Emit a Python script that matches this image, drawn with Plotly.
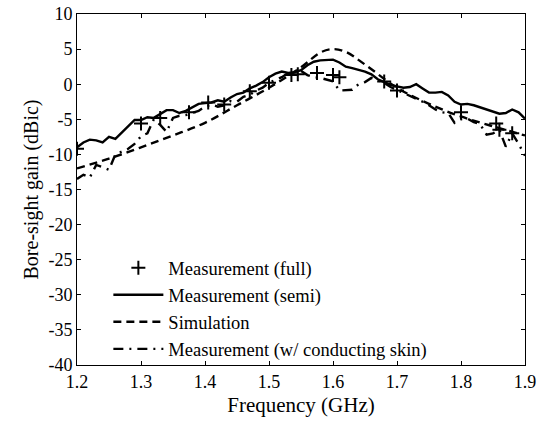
import plotly.graph_objects as go

# Frequency grid (GHz)
freq = [1.20, 1.21, 1.22, 1.23, 1.24, 1.25, 1.26, 1.27, 1.28, 1.29,
        1.30, 1.31, 1.32, 1.33, 1.34, 1.35, 1.36, 1.37, 1.38, 1.39,
        1.40, 1.41, 1.42, 1.43, 1.44, 1.45, 1.46, 1.47, 1.48, 1.49,
        1.50, 1.51, 1.52, 1.53, 1.54, 1.55, 1.56, 1.57, 1.58, 1.59,
        1.60, 1.61, 1.62, 1.63, 1.64, 1.65, 1.66, 1.67, 1.68, 1.69,
        1.70, 1.71, 1.72, 1.73, 1.74, 1.75, 1.76, 1.77, 1.78, 1.79,
        1.80, 1.81, 1.82, 1.83, 1.84, 1.85, 1.86, 1.87, 1.88, 1.89, 1.90]

# Measurement (semi)
semi = [-9.0, -8.3, -7.9, -8.0, -8.3, -7.5, -7.8, -6.9, -5.9, -5.1,
        -5.1, -4.7, -4.8, -4.2, -3.7, -3.7, -4.1, -3.8, -3.3, -2.8,
        -2.7, -2.6, -2.3, -2.5, -1.9, -1.4, -1.2, -0.6, -0.2, 0.3,
        1.0, 1.5, 1.8, 1.6, 1.7, 2.0, 2.7, 3.2, 3.4, 3.5,
        3.5, 3.1, 2.5, 2.3, 2.1, 1.8, 1.4, 0.7, 0.3, -0.1,
        -0.3, -0.5, -0.4, 0.0, -0.6, -1.2, -1.2, -1.1, -1.6, -2.5,
        -2.9, -2.8, -3.0, -3.3, -3.7, -4.0, -4.2, -4.1, -3.6, -4.0, -4.9]

# Measurement (w/ conducting skin)
skin = [-13.5, -12.9, -13.3, -11.5, -11.8, -12.2, -10.0, -9.6, -9.2, -8.5,
        -7.4, -7.0, -5.0, -5.8, -6.8, -4.8, -4.5, -4.4, -4.1, -3.8,
        -3.2, -2.9, -3.2, -3.0, -2.4, -2.5, -1.8, -1.5, -0.9, -0.5,
        0.2, 0.6, 1.0, 1.6, 1.8, 1.9, 1.3, 1.0, 0.9, 0.6,
        0.4, -0.9, -0.9, -0.8, 0.0, 0.3, 0.9, 0.6, 0.2, -0.4,
        -0.8, -1.3, -1.6, -2.0, -2.5, -3.0, -3.6, -4.0, -4.1, -5.5,
        -5.0, -4.9, -5.4, -5.7, -7.2, -7.0, -6.5, -8.9, -7.0, -8.5, -10.2]

# Simulation
sim_freq = [1.20, 1.25, 1.30, 1.35, 1.40, 1.45, 1.50, 1.55, 1.58, 1.60,
            1.62, 1.65, 1.70, 1.75, 1.80, 1.85, 1.90]
sim = [-12.0, -10.6, -9.0, -7.3, -5.5, -3.0, -0.5, 2.4, 4.5, 5.0,
       4.6, 2.8, -0.5, -2.8, -4.6, -6.0, -7.3]

# Measurement (full) markers
full_freq = [1.20, 1.30, 1.33, 1.375, 1.405, 1.43, 1.47, 1.50, 1.535, 1.545,
             1.575, 1.60, 1.61, 1.68, 1.70, 1.80, 1.855, 1.86, 1.88]
full = [-9.2, -5.6, -4.8, -4.0, -2.6, -2.9, -1.0, 0.2, 1.3, 1.4,
        1.6, 1.3, 1.0, 0.4, -0.9, -4.0, -5.6, -6.5, -7.0]

x_ticks = [1.2, 1.3, 1.4, 1.5, 1.6, 1.7, 1.8, 1.9]
y_ticks = [10, 5, 0, -5, -10, -15, -20, -25, -30, -35, -40]

FONT = "Liberation Serif, Times New Roman, serif"

fig = go.Figure()
fig.add_trace(go.Scatter(
    x=full_freq, y=full, mode="markers", name="Measurement (full)",
    marker=dict(symbol="cross-thin", size=10, color="black",
                line=dict(color="black", width=2))))
fig.add_trace(go.Scatter(
    x=freq, y=semi, mode="lines", name="Measurement (semi)",
    line=dict(color="black", width=2.4)))
fig.add_trace(go.Scatter(
    x=sim_freq, y=sim, mode="lines", name="Simulation",
    line=dict(color="black", width=2.4, dash="8px,5px", shape="spline")))
fig.add_trace(go.Scatter(
    x=freq, y=skin, mode="lines", name="Measurement (w/ conducting skin)",
    line=dict(color="black", width=2.4, dash="10px,6px,2px,6px")))

fig.update_layout(
    width=540, height=431,
    margin=dict(l=77, r=15, t=14, b=66),
    paper_bgcolor="white", plot_bgcolor="white",
    font=dict(family=FONT, color="black", size=18),
    showlegend=True,
    legend=dict(x=0.07, y=0.33, xanchor="left", yanchor="top",
                bgcolor="rgba(0,0,0,0)", font=dict(family=FONT, size=18.5),
                itemwidth=50, tracegroupgap=0),
    xaxis=dict(range=[1.2, 1.9], tickvals=x_ticks, ticktext=[f"{v:.1f}" for v in x_ticks],
               ticks="inside", ticklen=4, tickcolor="black", automargin=False,
               showline=True, linecolor="black", linewidth=1, mirror="ticks",
               showgrid=False, zeroline=False,
               tickfont=dict(size=18, family=FONT),
               title=dict(text="Frequency (GHz)", font=dict(size=21, family=FONT), standoff=6)),
    yaxis=dict(range=[-40, 10], tickvals=y_ticks, ticktext=[str(v) for v in y_ticks],
               ticks="inside", ticklen=4, tickcolor="black", automargin=False,
               showline=True, linecolor="black", linewidth=1, mirror="ticks",
               showgrid=False, zeroline=False,
               tickfont=dict(size=18, family=FONT),
               title=dict(text="Bore-sight gain (dBic)", font=dict(size=20, family=FONT), standoff=4)),
)

fig.write_html("out.html")
